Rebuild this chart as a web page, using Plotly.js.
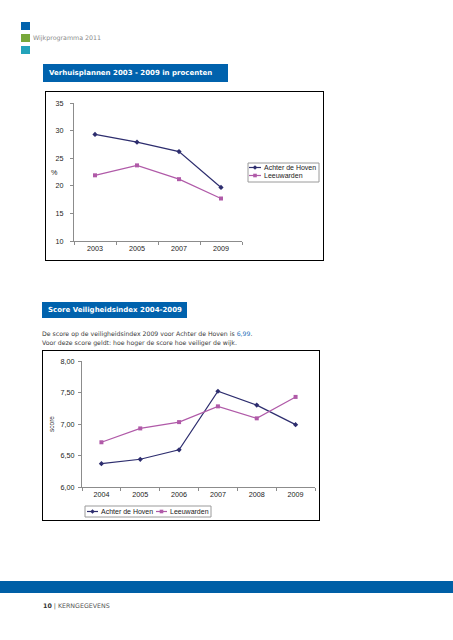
<!DOCTYPE html>
<html>
<head>
<meta charset="utf-8">
<script src="https://cdn.plot.ly/plotly-3.0.1.min.js"></script>
<style>
  html, body { margin:0; padding:0; background:#fff; }
  body { width:453px; height:640px; position:relative; overflow:hidden; font-family:"DejaVu Sans", Verdana, sans-serif; }
  .sq { position:absolute; left:21px; width:9px; height:8px; }
  .bar { position:absolute; background:#0062ad; color:#fff; font-weight:bold; font-size:7px; padding-left:6px; box-sizing:border-box; white-space:nowrap; }
  .chart { position:absolute; outline:1px solid #000; }
  .txt { position:absolute; font-size:6.2px; color:#3a3a3a; white-space:nowrap; }
</style>
</head>
<body>
<div class="sq" style="top:22px;background:#0062ad;"></div>
<div class="sq" style="top:34px;background:#78a83a;"></div>
<div class="sq" style="top:46px;background:#23a3ba;"></div>
<div class="txt" style="left:33px;top:34px;font-size:6.3px;color:#8a8a8a;">Wijkprogramma 2011</div>

<div class="bar" style="left:43px;top:64px;width:185px;height:18px;line-height:18px;">Verhuisplannen 2003 - 2009 in procenten</div>
<div id="c1" class="chart" style="left:46px;top:92px;width:277px;height:168px;"></div>

<div class="bar" style="left:42px;top:302px;width:145px;height:16px;line-height:16px;">Score Veiligheidsindex 2004-2009</div>
<div class="txt" style="left:42px;top:330px;">De score op de veiligheidsindex 2009 voor Achter de Hoven is <span style="color:#1f6fb8;">6,99</span>.</div>
<div class="txt" style="left:42px;top:339px;">Voor deze score geldt: hoe hoger de score hoe veiliger de wijk.</div>
<div id="c2" class="chart" style="left:43px;top:351px;width:276px;height:169px;"></div>

<div style="position:absolute;left:0;top:581px;width:453px;height:12px;background:#005fa6;"></div>
<div class="txt" style="left:43px;top:602px;font-size:6.3px;color:#555;"><b style="color:#333;">10</b> | KERNGEGEVENS</div>

<script>
// Chart 1: Verhuisplannen 2003 - 2009 in procenten
var years1 = ["2003", "2005", "2007", "2009"];
var achter1 = [29.3, 27.9, 26.2, 19.7];
var leeuw1 = [21.9, 23.7, 21.2, 17.7];

// Chart 2: Score Veiligheidsindex 2004-2009
var years2 = ["2004", "2005", "2006", "2007", "2008", "2009"];
var achter2 = [6.37, 6.44, 6.59, 7.52, 7.30, 6.99];
var leeuw2 = [6.71, 6.93, 7.03, 7.28, 7.09, 7.43];

var seriesNames = ["Achter de Hoven", "Leeuwarden"];
var seriesColors = ["#2d2d6e", "#b05aa8"];
var seriesSymbols = ["diamond", "square"];

var FAM = "Liberation Sans, Arial, sans-serif";
var fnt = {family:FAM, size:7.2, color:"#222"};

function trace(x, y, i) {
  return {x:x, y:y, name:seriesNames[i], type:"scatter", mode:"lines+markers", showlegend:false,
    line:{color:seriesColors[i], width:1.2}, marker:{color:seriesColors[i], symbol:seriesSymbols[i], size:4}};
}

// Compact legend drawn with shapes + annotations, positioned in pixels relative to the plot area.
function buildLegend(g, box, items) {
  var X = function(px){ return (px - g.left) / g.w; };
  var Y = function(py){ return 1 - (py - g.top) / g.h; };
  var shapes = [{type:"rect", xref:"paper", yref:"paper", x0:X(box[0]), x1:X(box[2]), y0:Y(box[1]), y1:Y(box[3]),
    line:{color:"#9a9a9a", width:1}, fillcolor:"#fff", layer:"above"}];
  var ann = [];
  items.forEach(function(it){
    var c = seriesColors[it.i];
    shapes.push({type:"line", xref:"paper", yref:"paper", x0:X(it.x0), x1:X(it.x1), y0:Y(it.y), y1:Y(it.y),
      line:{color:c, width:1.2}, layer:"above"});
    var mx = (it.x0 + it.x1) / 2, r = 1.8;
    if (seriesSymbols[it.i] === "square") {
      shapes.push({type:"rect", xref:"paper", yref:"paper", x0:X(mx - r), x1:X(mx + r), y0:Y(it.y - r), y1:Y(it.y + r),
        line:{width:0}, fillcolor:c, layer:"above"});
    } else {
      var p = "M" + X(mx - 2.3) + "," + Y(it.y) + " L" + X(mx) + "," + Y(it.y - 2.3) + " L" + X(mx + 2.3) + "," + Y(it.y) +
              " L" + X(mx) + "," + Y(it.y + 2.3) + " Z";
      shapes.push({type:"path", xref:"paper", yref:"paper", path:p, line:{width:0}, fillcolor:c, layer:"above"});
    }
    ann.push({xref:"paper", yref:"paper", x:X(it.tx), y:Y(it.y), text:seriesNames[it.i], showarrow:false,
      xanchor:"left", yanchor:"middle", borderpad:0, font:{family:FAM, size:7, color:"#222"}});
  });
  return {shapes:shapes, annotations:ann};
}

var axX = {type:"category", showgrid:false, zeroline:false, showline:true, linecolor:"#8c8c8c", linewidth:1,
  ticks:"outside", tickson:"boundaries", ticklen:3, tickcolor:"#8c8c8c", tickfont:fnt, fixedrange:true, automargin:false};
var axY = {showgrid:false, zeroline:false, showline:true, linecolor:"#8c8c8c", linewidth:1,
  ticks:"outside", ticklen:3, tickcolor:"#8c8c8c", tickfont:fnt, fixedrange:true, automargin:false};

// Chart 1 geometry (page px): plot area left 74, top 103, 168 x 138
var g1 = {left:74, top:103, w:168, h:138};
var leg1 = buildLegend(g1, [248, 163, 319, 182], [
  {i:0, x0:249, x1:261, tx:263, y:167.5},
  {i:1, x0:249, x1:261, tx:263, y:175.5}
]);
var l1 = {
  width:277, height:168, margin:{l:28, r:81, t:11, b:19},
  paper_bgcolor:"rgba(0,0,0,0)", plot_bgcolor:"rgba(0,0,0,0)",
  font:fnt, showlegend:false,
  xaxis:Object.assign({}, axX, {range:[-0.5, 3.5]}),
  yaxis:Object.assign({}, axY, {range:[10, 35], dtick:5, tick0:10, ticklabelstandoff:5}),
  shapes:leg1.shapes,
  annotations:[{xref:"paper", yref:"paper", x:-0.085, y:0.5, text:"%", showarrow:false, font:fnt, xanchor:"right"}].concat(leg1.annotations)
};
Plotly.newPlot("c1", [trace(years1, achter1, 0), trace(years1, leeuw1, 1)], l1, {displayModeBar:false, staticPlot:true});

// Chart 2 geometry: plot area left 82, top 361, 233 x 126
var g2 = {left:82, top:361, w:233, h:126};
var leg2 = buildLegend(g2, [85, 506, 211, 517], [
  {i:0, x0:87, x1:98, tx:100, y:511.5},
  {i:1, x0:156, x1:167, tx:169, y:511.5}
]);
var l2 = {
  width:276, height:169, margin:{l:39, r:4, t:10, b:33},
  paper_bgcolor:"rgba(0,0,0,0)", plot_bgcolor:"rgba(0,0,0,0)",
  font:fnt, separators:",.", showlegend:false,
  xaxis:Object.assign({}, axX, {range:[-0.5, 5.5]}),
  yaxis:Object.assign({}, axY, {range:[6, 8], dtick:0.5, tick0:6, tickformat:".2f", ticklabelstandoff:2,
    title:{text:"score", font:{family:FAM, size:6.5, color:"#333"}, standoff:5}}),
  shapes:leg2.shapes,
  annotations:leg2.annotations
};
Plotly.newPlot("c2", [trace(years2, achter2, 0), trace(years2, leeuw2, 1)], l2, {displayModeBar:false, staticPlot:true});
</script>
</body>
</html>
